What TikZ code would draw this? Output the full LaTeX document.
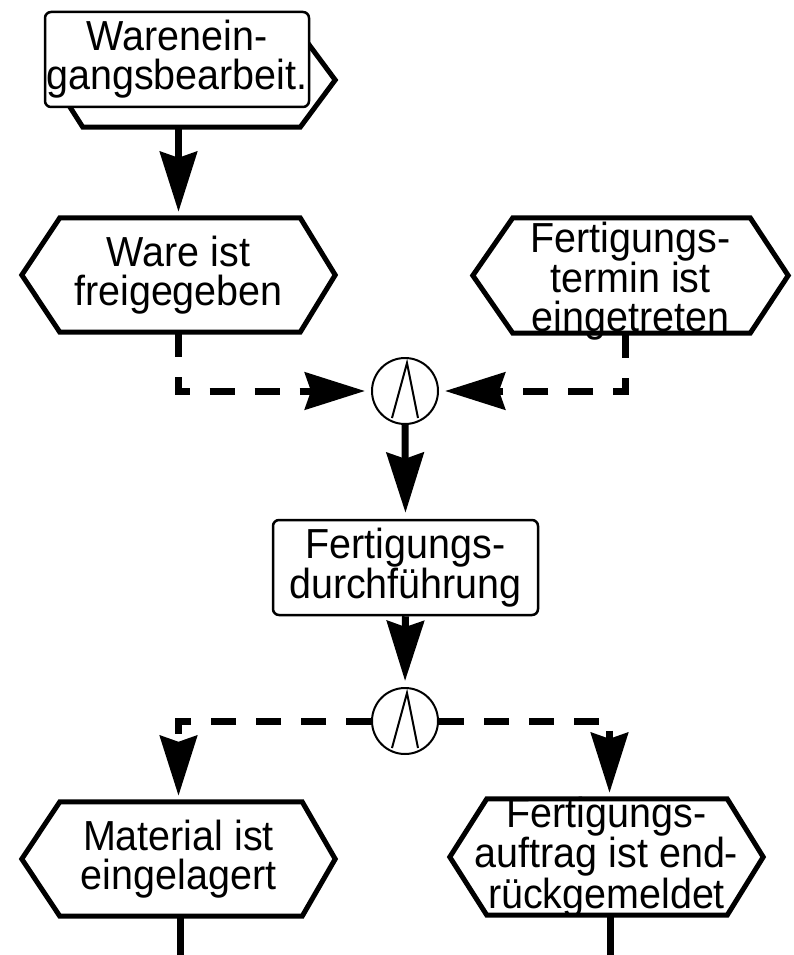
\documentclass[tikz,border=0pt]{standalone}
\usepackage{fontspec}
\setmainfont[FakeStretch=0.94]{Liberation Sans}
\usetikzlibrary{arrows.meta}

% event hexagon drawn around a named (invisible) node: name, left slant, right slant
\newcommand\evhex[3]{%
  \draw[hexline] (#1.west) -- ([xshift=#2]#1.north west) -- ([xshift=-#3]#1.north east)
    -- (#1.east) -- ([xshift=-#3]#1.south east) -- ([xshift=#2]#1.south west) -- cycle;}

\tikzset{
  lbl/.style={font=\fontsize{42}{39}\selectfont, align=center, inner sep=0pt},
  evt/.style={lbl, draw=none},
  hexline/.style={line width=5pt, line join=miter, fill=white},
  func/.style={lbl, draw, line width=2.5pt, rounded corners=6pt, fill=white},
  andop/.style={circle, draw, line width=2pt, minimum size=66pt, inner sep=0pt},
  tip/.style={-{Stealth[length=60pt, width=37pt, inset=6pt]}},
  flow/.style={line width=7pt, tip, shorten >=6pt},
  cond/.style={line width=7pt, dash pattern=on 25pt off 20pt, tip, shorten >=6pt},
  tail/.style={line width=7pt},
}

\begin{document}
\begin{tikzpicture}[x=1pt, y=-1pt]
\useasboundingbox (0,0) rectangle (793,955);

% process interface: hexagon behind a rounded function box
\node[evt, minimum width=282pt, minimum height=94pt] (pif) at (194,80) {};
\evhex{pif}{30pt}{35pt}
\node[func, minimum width=264pt, minimum height=95pt] (wea) at (177,59.5)
  {Warenein-\\gangsbearbeit.};

% events
\node[evt, minimum width=313pt, minimum height=114pt] (e1) at (178.5,275) {};
\evhex{e1}{38pt}{35pt}
\node[lbl] at (e1) {Ware ist\\freigegeben};

\node[evt, minimum width=315pt, minimum height=115pt] (e2) at (630.5,275.5) {};
\evhex{e2}{40pt}{38pt}
\node[lbl] at ([yshift=-6pt]e2.center) {Fertigungs-\\termin ist\\eingetreten};

% AND connectors
\node[andop] (and1) at (405,391) {};
\draw[line width=2pt] ([shift={(-13,27)}]and1.center) -- ([shift={(2,-28)}]and1.center)
  -- ([shift={(13,27)}]and1.center);

\node[func, minimum width=265pt, minimum height=95pt] (fd) at (405.5,567.5)
  {Fertigungs-\\durchführung};

\node[andop] (and2) at (405,721) {};
\draw[line width=2pt] ([shift={(-13,27)}]and2.center) -- ([shift={(2,-28)}]and2.center)
  -- ([shift={(13,27)}]and2.center);

\node[evt, minimum width=313pt, minimum height=114pt] (e3) at (178.5,859) {};
\evhex{e3}{38pt}{33pt}
\node[lbl] at (e3) {Material ist\\eingelagert};

\node[evt, minimum width=313pt, minimum height=116pt] (e4) at (606.5,857) {};
\evhex{e4}{37pt}{36pt}
\node[lbl] at (e4) {Fertigungs-\\auftrag ist end-\\rückgemeldet};

\coordinate (b3) at (180,955);
\coordinate (b4) at (610,955);

% connectors
\draw[flow] (e1.north |- pif.south) -- (e1.north);
\draw[cond] (e1.south) |- (and1.west);
\draw[cond] ([xshift=-5pt]e2.south) |- (and1.east);
\draw[flow] (and1.south) -- (fd.north);
\draw[flow] (fd.south) -- (and2.north);
\draw[cond] (and2.west) -| (e3.north);
\draw[cond] (and2.east) -| ([xshift=3pt]e4.north);
\draw[tail] (e3.south -| b3) -- (b3);
\draw[tail] (e4.south -| b4) -- (b4);
\end{tikzpicture}
\end{document}
